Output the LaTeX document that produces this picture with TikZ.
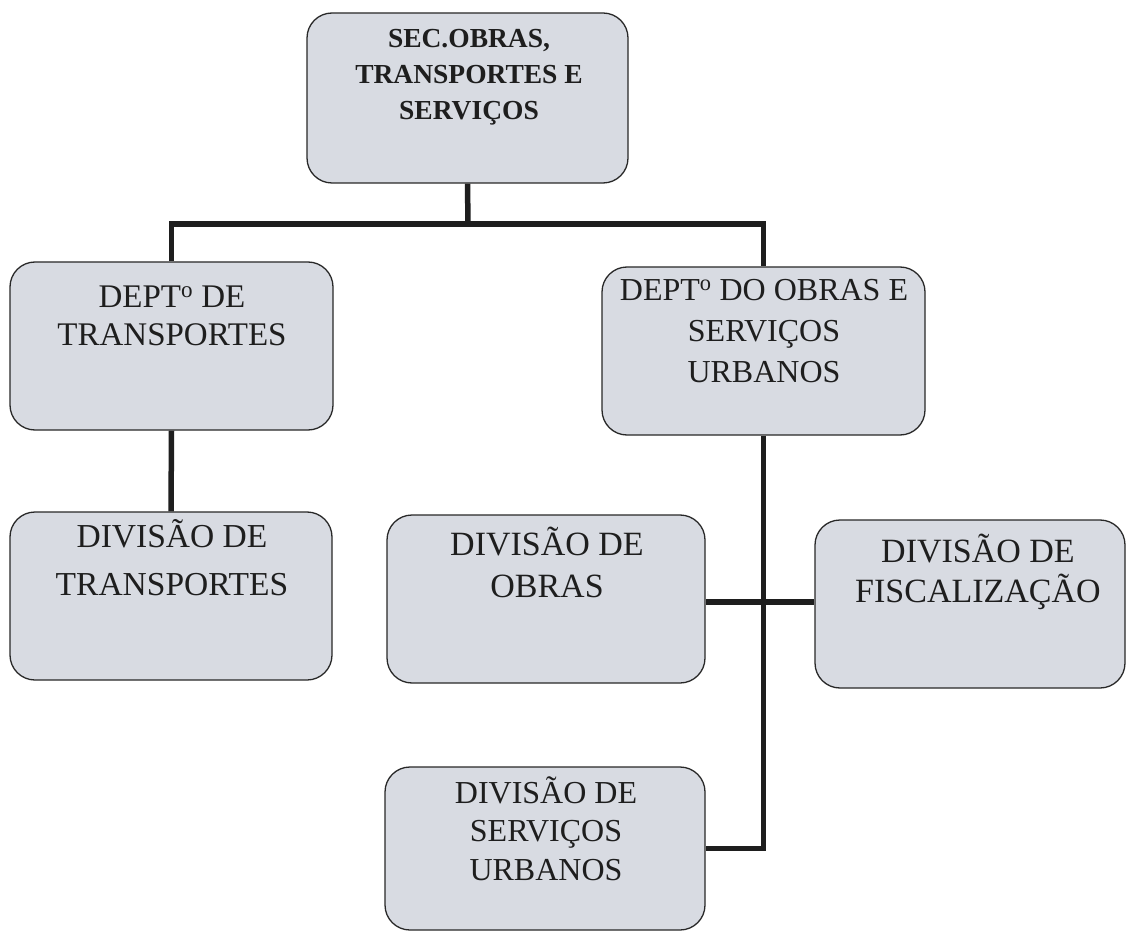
\documentclass[tikz,border=0pt]{standalone}
\usepackage{fontspec}
\setmainfont{Liberation Serif}
\usetikzlibrary{backgrounds}
\definecolor{boxfill}{RGB}{216,219,226}
\definecolor{boxline}{RGB}{40,40,40}
\definecolor{inkc}{RGB}{30,30,30}
\tikzset{
  orgbox/.style={draw=boxline, line width=1.3pt, fill=boxfill, rounded corners=25pt, inner sep=0pt},
  conn/.style={draw=inkc, line width=5.5pt},
  lbl/.style={align=center, text=inkc, inner sep=0pt, anchor=base},
  reg/.style={font=\fontsize{33}{40}\selectfont},
  bld/.style={font=\fontsize{27.5}{36}\selectfont\bfseries}
}
\begin{document}
\begin{tikzpicture}[x=1pt,y=-1pt]
\useasboundingbox (0,0) rectangle (1127,933);
% boxes
\node[orgbox, minimum width=321pt, minimum height=170pt] (top) at (467.5,98) {};
\node[orgbox, minimum width=323pt, minimum height=168pt] (ldept) at (171.5,346) {};
\node[orgbox, minimum width=323pt, minimum height=168pt] (rdept) at (763.5,351) {};
\node[orgbox, minimum width=322pt, minimum height=168pt] (ltrans) at (171,596) {};
\node[orgbox, minimum width=318pt, minimum height=168pt] (obras) at (546,599) {};
\node[orgbox, minimum width=310pt, minimum height=168pt] (fisc) at (970,604) {};
\node[orgbox, minimum width=320pt, minimum height=163pt] (serv) at (545,848.5) {};
% connectors
\coordinate (j1) at (468,224);
\coordinate (x1) at (761,602);
\begin{scope}[on background layer]
\fill[white] (0,0) rectangle (1127,933);
\draw[conn] (top.south) -- (j1);
\draw[conn] (ldept.north) -- (ldept.north |- j1) -- (rdept.north |- j1) -- (rdept.north);
\draw[conn] (ldept.south) -- (ltrans.north);
\draw[conn] (rdept.south) -- ++(0,10) |- (serv.east);
\draw[conn] (obras.east |- x1) -- (fisc.west |- x1);
\end{scope}
% labels
\node[lbl, bld] (ttop) at (469,120) {SEC.OBRAS,\\TRANSPORTES E\\SERVIÇOS};
\node[lbl, reg, font=\fontsize{33}{38}\selectfont] (tldept) at (172,345) {DEPT\textsuperscript{o} DE\\TRANSPORTES};
\node[lbl, reg, font=\fontsize{32}{41}\selectfont] (trdept) at (764,382) {DEPT\textsuperscript{o} DO OBRAS E\\SERVIÇOS\\URBANOS};
\node[lbl, reg, font=\fontsize{33.5}{48}\selectfont] (tltrans) at (172,595) {DIVISÃO DE\\TRANSPORTES};
\node[lbl, reg, font=\fontsize{34}{42}\selectfont] (tobras) at (547,597) {DIVISÃO DE\\OBRAS};
\node[lbl, reg, font=\fontsize{34}{40}\selectfont] (tfisc) at (978,602) {DIVISÃO DE\\FISCALIZAÇÃO};
\node[lbl, reg, font=\fontsize{32}{38.5}\selectfont] (tserv) at (546,880) {DIVISÃO DE\\SERVIÇOS\\URBANOS};
\end{tikzpicture}
\end{document}
